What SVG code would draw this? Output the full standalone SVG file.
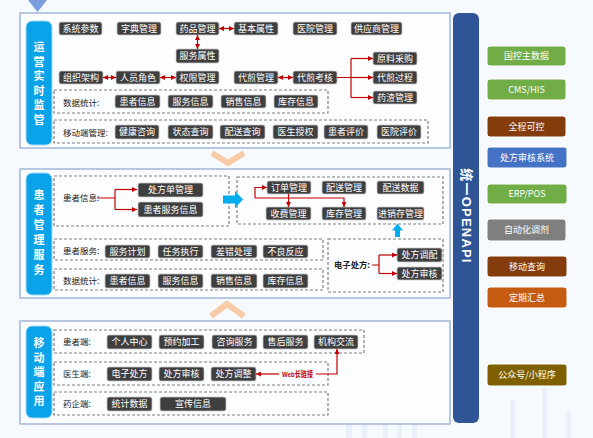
<svg xmlns="http://www.w3.org/2000/svg" width="593" height="438" viewBox="0 0 593 438">
<defs>
<style>
.bg{fill:#f6f9fd}
.sec{fill:#fcfdff;stroke:#a3b6d8;stroke-width:1.5}
.lab{fill:#0aa2e8;stroke:#9fdaf5;stroke-width:1}
.labt{fill:#fff;font-family:"Noto Sans CJK SC",sans-serif;font-size:11px;font-weight:bold;text-anchor:middle}
.dash{fill:none;stroke:#7f7f7f;stroke-width:1.2;stroke-dasharray:3 2}
.nd{fill:#3f3f3f;stroke:#c8c8c8;stroke-width:0.8}
.nt{fill:#fff;font-family:"Noto Sans CJK SC",sans-serif;font-size:9px;text-anchor:middle}
.rt{fill:#222;font-family:"Noto Sans CJK SC",sans-serif;font-size:8.5px}
.rb{stroke:#fff;stroke-width:1}
.rbt{fill:#fff;font-family:"Noto Sans CJK SC",sans-serif;font-size:9px;text-anchor:middle}
.red{fill:none;stroke:#c00000;stroke-width:1.2}
.chev{fill:none;stroke:#f8cba6;stroke-width:6}
.deco{fill:#e9f0fa}
</style>
<marker id="ah" viewBox="0 0 6 6" refX="6" refY="3" markerWidth="5" markerHeight="5" markerUnits="userSpaceOnUse" orient="auto-start-reverse">
<path d="M0,0 L6,3 L0,6 z" fill="#c00000"/>
</marker>
</defs>
<rect class="bg" x="0" y="0" width="593" height="438"/>
<g id="decor">
<rect class="deco" x="346" y="345" width="6" height="93"/>
<rect class="deco" x="362" y="392" width="5" height="46"/>
<rect class="deco" x="383" y="402" width="5" height="36"/>
<rect class="deco" x="397" y="388" width="5" height="50"/>
<rect class="deco" x="412" y="410" width="5" height="28"/>
<rect class="deco" x="510" y="400" width="5" height="38"/>
<rect class="deco" x="542" y="388" width="5" height="50"/>
<rect class="deco" x="566" y="412" width="5" height="26"/>
<polygon points="28,0 47,0 37.5,12" fill="#7a9fdc"/>
<polyline class="chev" points="212,153 228,163 244,153"/>
<polyline class="chev" points="211,316 227,304 244,316"/>
</g>
<!-- sections -->
<g id="sec-top">
<rect class="sec" x="20" y="13" width="430" height="135"/>
<rect class="lab" x="26" y="21" width="26" height="124" rx="6"/>
<text class="labt"><tspan x="39" y="51">运</tspan><tspan x="39" y="65.5">营</tspan><tspan x="39" y="80">实</tspan><tspan x="39" y="94.5">时</tspan><tspan x="39" y="109">监</tspan><tspan x="39" y="123.5">管</tspan></text>
<rect class="dash" x="54" y="90" width="274" height="23"/>
<text class="rt" x="63" y="105.5">数据统计:</text>
<rect class="dash" x="54" y="120" width="374" height="23"/>
<text class="rt" x="63" y="135.5">移动端管理:</text>
</g>
<g id="sec-mid">
<rect class="sec" x="20" y="169" width="430" height="129"/>
<rect class="lab" x="26" y="173" width="26" height="122" rx="6"/>
<text class="labt"><tspan x="39" y="199">患</tspan><tspan x="39" y="214">者</tspan><tspan x="39" y="229">管</tspan><tspan x="39" y="244">理</tspan><tspan x="39" y="259">服</tspan><tspan x="39" y="274">务</tspan></text>
<rect class="dash" x="54" y="176" width="175" height="50"/>
<text class="rt" x="63" y="201">患者信息:</text>
<rect class="dash" x="237" y="177" width="206" height="47"/>
<rect class="dash" x="54" y="239" width="269" height="21"/>
<text class="rt" x="63" y="253.5">患者服务:</text>
<rect class="dash" x="54" y="269" width="269" height="21"/>
<text class="rt" x="63" y="283.5">数据统计:</text>
<rect class="dash" x="328" y="239" width="115" height="53"/>
<text class="rt" x="334" y="268" font-weight="bold" textLength="36" lengthAdjust="spacingAndGlyphs">电子处方:</text>
</g>
<g id="sec-bot">
<rect class="sec" x="20" y="321" width="430" height="103"/>
<rect class="lab" x="26" y="326" width="26" height="92" rx="6"/>
<text class="labt"><tspan x="39" y="347">移</tspan><tspan x="39" y="361.5">动</tspan><tspan x="39" y="376">端</tspan><tspan x="39" y="390.5">应</tspan><tspan x="39" y="405">用</tspan></text>
<rect class="dash" x="54" y="330" width="310" height="23"/>
<text class="rt" x="63" y="345">患者端:</text>
<rect class="dash" x="54" y="362" width="274" height="23"/>
<text class="rt" x="63" y="377">医生端:</text>
<rect class="dash" x="54" y="392" width="274" height="23"/>
<text class="rt" x="63" y="407">药企端:</text>
</g>
<!-- top nodes -->
<g id="t-xtcs"><rect class="nd" x="59" y="22" width="43" height="13" rx="2"/><text class="nt" x="80.5" y="31.8">系统参数</text></g>
<g id="t-zdgl"><rect class="nd" x="117" y="22" width="44" height="13" rx="2"/><text class="nt" x="139" y="31.8">字典管理</text></g>
<g id="t-ypgl"><rect class="nd" x="176" y="22" width="43" height="13" rx="2"/><text class="nt" x="197.5" y="31.8">药品管理</text></g>
<g id="t-jbsx"><rect class="nd" x="234" y="22" width="44" height="13" rx="2"/><text class="nt" x="256" y="31.8">基本属性</text></g>
<g id="t-yygl"><rect class="nd" x="293" y="22" width="44" height="13" rx="2"/><text class="nt" x="315" y="31.8">医院管理</text></g>
<g id="t-gysgl"><rect class="nd" x="351" y="22" width="51" height="13" rx="2"/><text class="nt" x="376.5" y="31.8">供应商管理</text></g>
<g id="t-fwsx"><rect class="nd" x="176" y="49" width="43" height="14" rx="2"/><text class="nt" x="197.5" y="59.2">服务属性</text></g>
<g id="t-zzjg"><rect class="nd" x="59" y="71" width="44" height="13" rx="2"/><text class="nt" x="81" y="80.8">组织架构</text></g>
<g id="t-ryjs"><rect class="nd" x="116" y="71" width="44" height="13" rx="2"/><text class="nt" x="138" y="80.8">人员角色</text></g>
<g id="t-qxgl"><rect class="nd" x="176" y="71" width="43" height="13" rx="2"/><text class="nt" x="197.5" y="80.8">权限管理</text></g>
<g id="t-djgl"><rect class="nd" x="234" y="71" width="44" height="13" rx="2"/><text class="nt" x="256" y="80.8">代煎管理</text></g>
<g id="t-djkh"><rect class="nd" x="293" y="71" width="44" height="13" rx="2"/><text class="nt" x="315" y="80.8">代煎考核</text></g>
<g id="t-ylcg"><rect class="nd" x="373" y="52" width="44" height="13" rx="2"/><text class="nt" x="395" y="61.8">原料采购</text></g>
<g id="t-djgc"><rect class="nd" x="373" y="71" width="44" height="13" rx="2"/><text class="nt" x="395" y="80.8">代煎过程</text></g>
<g id="t-yzgl"><rect class="nd" x="373" y="91" width="44" height="13" rx="2"/><text class="nt" x="395" y="100.8">药渣管理</text></g>
<g id="t-hzxx"><rect class="nd" x="115" y="95" width="45" height="13" rx="2"/><text class="nt" x="137.5" y="104.8">患者信息</text></g>
<g id="t-fwxx"><rect class="nd" x="168" y="95" width="45" height="13" rx="2"/><text class="nt" x="190.5" y="104.8">服务信息</text></g>
<g id="t-xsxx"><rect class="nd" x="221" y="95" width="45" height="13" rx="2"/><text class="nt" x="243.5" y="104.8">销售信息</text></g>
<g id="t-kcxx"><rect class="nd" x="274" y="95" width="44" height="13" rx="2"/><text class="nt" x="296" y="104.8">库存信息</text></g>
<g id="t-jkzx"><rect class="nd" x="115" y="125" width="44" height="14" rx="2"/><text class="nt" x="137" y="135.2">健康咨询</text></g>
<g id="t-ztcx"><rect class="nd" x="168" y="125" width="45" height="14" rx="2"/><text class="nt" x="190.5" y="135.2">状态查询</text></g>
<g id="t-pscx"><rect class="nd" x="220" y="125" width="45" height="14" rx="2"/><text class="nt" x="242.5" y="135.2">配送查询</text></g>
<g id="t-yssq"><rect class="nd" x="273" y="125" width="45" height="14" rx="2"/><text class="nt" x="295.5" y="135.2">医生授权</text></g>
<g id="t-hzpj"><rect class="nd" x="324" y="125" width="44" height="14" rx="2"/><text class="nt" x="346" y="135.2">患者评价</text></g>
<g id="t-yypj"><rect class="nd" x="377" y="125" width="44" height="14" rx="2"/><text class="nt" x="399" y="135.2">医院评价</text></g>
<!-- middle nodes -->
<g id="m-cfdgl"><rect class="nd" x="138" y="183" width="65" height="14" rx="2"/><text class="nt" x="170.5" y="193.2">处方单管理</text></g>
<g id="m-hzfwxx"><rect class="nd" x="138" y="202" width="65" height="15" rx="2"/><text class="nt" x="170.5" y="212.7">患者服务信息</text></g>
<g id="m-ddgl"><rect class="nd" x="267" y="181" width="44" height="13" rx="2"/><text class="nt" x="289" y="190.8">订单管理</text></g>
<g id="m-psgl"><rect class="nd" x="322" y="181" width="44" height="13" rx="2"/><text class="nt" x="344" y="190.8">配送管理</text></g>
<g id="m-pssj"><rect class="nd" x="377" y="181" width="47" height="13" rx="2"/><text class="nt" x="400.5" y="190.8">配送数据</text></g>
<g id="m-sfgl"><rect class="nd" x="266" y="207" width="45" height="13" rx="2"/><text class="nt" x="288.5" y="216.8">收费管理</text></g>
<g id="m-kcgl"><rect class="nd" x="322" y="207" width="44" height="13" rx="2"/><text class="nt" x="344" y="216.8">库存管理</text></g>
<g id="m-jxcgl"><rect class="nd" x="377" y="207" width="47" height="13" rx="2"/><text class="nt" x="400.5" y="216.8">进销存管理</text></g>
<g id="m-fwjh"><rect class="nd" x="105" y="245" width="45" height="13" rx="2"/><text class="nt" x="127.5" y="254.8">服务计划</text></g>
<g id="m-rwzx"><rect class="nd" x="158" y="245" width="45" height="13" rx="2"/><text class="nt" x="180.5" y="254.8">任务执行</text></g>
<g id="m-cccl"><rect class="nd" x="211" y="245" width="46" height="13" rx="2"/><text class="nt" x="234" y="254.8">差错处理</text></g>
<g id="m-blfy"><rect class="nd" x="263" y="245" width="45" height="13" rx="2"/><text class="nt" x="285.5" y="254.8">不良反应</text></g>
<g id="m-hzxx"><rect class="nd" x="105" y="274" width="45" height="14" rx="2"/><text class="nt" x="127.5" y="284.2">患者信息</text></g>
<g id="m-fwxx"><rect class="nd" x="158" y="274" width="45" height="14" rx="2"/><text class="nt" x="180.5" y="284.2">服务信息</text></g>
<g id="m-xsxx"><rect class="nd" x="211" y="274" width="46" height="14" rx="2"/><text class="nt" x="234" y="284.2">销售信息</text></g>
<g id="m-kcxx"><rect class="nd" x="263" y="274" width="45" height="14" rx="2"/><text class="nt" x="285.5" y="284.2">库存信息</text></g>
<g id="m-cftp"><rect class="nd" x="397" y="248" width="45" height="14" rx="2"/><text class="nt" x="419.5" y="258.2">处方调配</text></g>
<g id="m-cfsh"><rect class="nd" x="397" y="267" width="45" height="13" rx="2"/><text class="nt" x="419.5" y="276.8">处方审核</text></g>
<!-- bottom nodes -->
<g id="b-grzx"><rect class="nd" x="107" y="335" width="45" height="14" rx="2"/><text class="nt" x="129.5" y="345.2">个人中心</text></g>
<g id="b-yyjg"><rect class="nd" x="159" y="335" width="45" height="14" rx="2"/><text class="nt" x="181.5" y="345.2">预约加工</text></g>
<g id="b-zxfw"><rect class="nd" x="212" y="335" width="45" height="14" rx="2"/><text class="nt" x="234.5" y="345.2">咨询服务</text></g>
<g id="b-shfw"><rect class="nd" x="263" y="335" width="45" height="14" rx="2"/><text class="nt" x="285.5" y="345.2">售后服务</text></g>
<g id="b-jgjl"><rect class="nd" x="314" y="335" width="44" height="14" rx="2"/><text class="nt" x="336" y="345.2">机构交流</text></g>
<g id="b-dzcf"><rect class="nd" x="107" y="367" width="45" height="14" rx="2"/><text class="nt" x="129.5" y="377.2">电子处方</text></g>
<g id="b-cfsh"><rect class="nd" x="159" y="367" width="45" height="14" rx="2"/><text class="nt" x="181.5" y="377.2">处方审核</text></g>
<g id="b-cftz"><rect class="nd" x="211" y="367" width="45" height="14" rx="2"/><text class="nt" x="233.5" y="377.2">处方调整</text></g>
<g id="b-tjsj"><rect class="nd" x="107" y="397" width="45" height="14" rx="2"/><text class="nt" x="129.5" y="407.2">统计数据</text></g>
<g id="b-xcxx"><rect class="nd" x="160" y="397" width="66" height="14" rx="2"/><text class="nt" x="193" y="407.2">宣传信息</text></g>
<!-- right side -->
<g id="openapi">
<rect x="453" y="13" width="26" height="410" rx="6" fill="#2f5597"/>
<text transform="translate(461.5,216) rotate(90)" fill="#fff" font-family="'Liberation Sans','Noto Sans CJK SC',sans-serif" font-size="13" font-weight="bold" letter-spacing="1.2" text-anchor="middle">统一OPENAPI</text>
</g>
<g id="r-gkzsj"><rect class="rb" x="487" y="46" width="79" height="20" rx="3" fill="#70ad47"/><text class="rbt" x="526.5" y="59.2">国控主数据</text></g>
<g id="r-cms"><rect class="rb" x="487" y="79" width="79" height="21" rx="3" fill="#70ad47"/><text class="rbt" x="526.5" y="92.7">CMS/HIS</text></g>
<g id="r-qckk"><rect class="rb" x="487" y="116" width="79" height="21" rx="3" fill="#843c0c"/><text class="rbt" x="526.5" y="129.7">全程可控</text></g>
<g id="r-cfshxt"><rect class="rb" x="487" y="147" width="80" height="21" rx="3" fill="#4472c4"/><text class="rbt" x="527" y="160.7">处方审核系统</text></g>
<g id="r-erp"><rect class="rb" x="487" y="184" width="80" height="20" rx="3" fill="#70ad47"/><text class="rbt" x="527" y="197.2">ERP/POS</text></g>
<g id="r-zdhtj"><rect class="rb" x="487" y="219" width="79" height="22" rx="3" fill="#7f7f7f"/><text class="rbt" x="526.5" y="233.2">自动化调剂</text></g>
<g id="r-ydcx"><rect class="rb" x="487" y="256" width="80" height="21" rx="3" fill="#843c0c"/><text class="rbt" x="527" y="269.7">移动查询</text></g>
<g id="r-dqhz"><rect class="rb" x="487" y="287" width="80" height="21" rx="3" fill="#c55a11"/><text class="rbt" x="527" y="300.7">定期汇总</text></g>
<g id="r-gzh"><rect class="rb" x="487" y="364" width="80" height="22" rx="3" fill="#7f6000"/><text class="rbt" x="527" y="378.2">公众号/小程序</text></g>
<!-- connectors -->
<g id="connectors">
<line class="red" x1="219" y1="28.5" x2="234" y2="28.5" marker-start="url(#ah)" marker-end="url(#ah)"/>
<line class="red" x1="197.5" y1="35" x2="197.5" y2="49" marker-start="url(#ah)" marker-end="url(#ah)"/>
<line class="red" x1="103" y1="77.5" x2="116" y2="77.5" marker-start="url(#ah)" marker-end="url(#ah)"/>
<line class="red" x1="160" y1="77.5" x2="176" y2="77.5" marker-start="url(#ah)" marker-end="url(#ah)"/>
<line class="red" x1="278" y1="77.5" x2="293" y2="77.5" marker-start="url(#ah)" marker-end="url(#ah)"/>
<path class="red" d="M337,77.5 H351 M351,58.5 V97.5"/>
<path class="red" d="M351,58.5 H373" marker-end="url(#ah)"/>
<path class="red" d="M351,77.5 H373" marker-end="url(#ah)"/>
<path class="red" d="M351,97.5 H373" marker-end="url(#ah)"/>
<path class="red" d="M97,198 H115 M115,189.5 V209.5"/>
<path class="red" d="M115,189.5 H137" marker-end="url(#ah)"/>
<path class="red" d="M115,209.5 H137" marker-end="url(#ah)"/>
<path class="red" d="M255,198 V187.5 H267" marker-end="url(#ah)"/>
<path class="red" d="M255,198 H344 V207" marker-end="url(#ah)"/>
<path class="red" d="M288.5,194 V207" marker-end="url(#ah)"/>
<path class="red" d="M372,265 H379 M379,255 V273.5"/>
<path class="red" d="M379,255 H397" marker-end="url(#ah)"/>
<path class="red" d="M379,273.5 H397" marker-end="url(#ah)"/>
<path class="red" d="M316,374 H337 V349" marker-end="url(#ah)"/>
<path class="red" d="M279,374 H256" marker-end="url(#ah)"/>
<text x="282" y="377" fill="#c00000" font-family="'Liberation Sans','Noto Sans CJK SC',sans-serif" font-size="8" font-weight="bold" textLength="31" lengthAdjust="spacingAndGlyphs">Web长链接</text>
<polygon points="223,195.5 235,195.5 235,191 243,199.5 235,208 235,203.5 223,203.5" fill="#00aeef"/>
<polygon points="397.5,223.5 403,230.5 400,230.5 400,237 395,237 395,230.5 392,230.5" fill="#00aeef"/>
</g>
</svg>
